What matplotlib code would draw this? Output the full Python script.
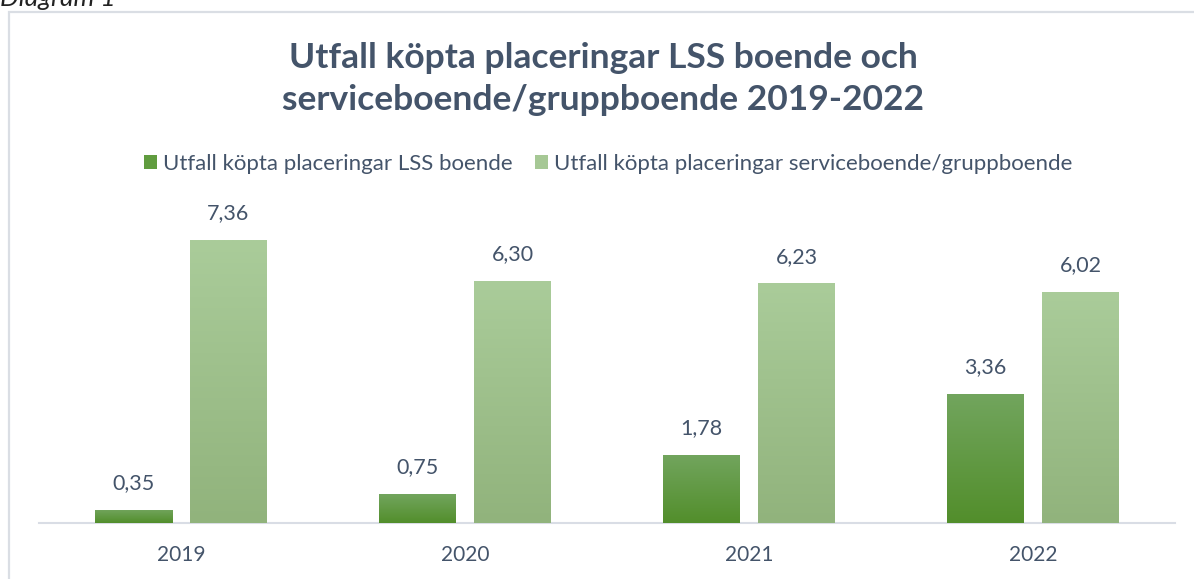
import matplotlib
matplotlib.use("Agg")
import matplotlib.pyplot as plt
import numpy as np
from matplotlib.patches import Rectangle
from matplotlib.colors import LinearSegmentedColormap

# ---- data ----
years = ["2019", "2020", "2021", "2022"]
lss_boende = [0.35, 0.75, 1.78, 3.36]
service_boende = [7.36, 6.30, 6.23, 6.02]
series_names = ["Utfall köpta placeringar LSS boende",
                "Utfall köpta placeringar serviceboende/gruppboende"]
title = "Utfall köpta placeringar LSS boende och\nserviceboende/gruppboende 2019-2022"

W, H = 1194, 579
plt.rcParams['font.family'] = ['Lato', 'DejaVu Sans']
txt_col = "#44546a"

fig = plt.figure(figsize=(W / 100, H / 100), dpi=100)
fig.patch.set_facecolor("white")

# outer frame
fig.patches.append(Rectangle((9 / W, -0.1), 1.2, 1 - 12 / H + 0.1, transform=fig.transFigure,
                             fill=False, edgecolor="#dadee4", linewidth=1.6))
fig.text(0 / W, 1 - 6 / H, "Diagram 1", fontsize=19, style="italic", color="#222222",
         ha="left", va="baseline")

left, right = 39 / W, 1175 / W
base_y = 523
ppu = 38.45
ymax = 8
top_y = base_y - ymax * ppu
ax = fig.add_axes([left, 1 - base_y / H, right - left, (base_y - top_y) / H])
ax.set_xlim(-0.5, len(years) - 0.5)
ax.set_ylim(0, ymax)
for s in ["top", "right", "left"]:
    ax.spines[s].set_visible(False)
ax.spines["bottom"].set_color("#d9dde5")
ax.spines["bottom"].set_linewidth(1.5)
ax.set_yticks([])
x = np.arange(len(years))
ax.set_xticks(x)
ax.set_xticklabels(years, fontsize=15, color=txt_col)
ax.tick_params(axis="x", length=0, pad=16)

bw = 77 / 284
off = (77 + 18) / 2 / 284
dark_cols = ("#72a55e", "#528e2b")
light_cols = ("#aacc9a", "#91b37c")
b1 = ax.bar(x - off, lss_boende, bw, color="#609c3f", zorder=2, label=series_names[0])
b2 = ax.bar(x + off, service_boende, bw, color="#a6c895", zorder=2, label=series_names[1])

for bars, cols in ((b1, dark_cols), (b2, light_cols)):
    cmap = LinearSegmentedColormap.from_list("g", [cols[1], cols[0]])
    grad = np.linspace(0, 1, 256).reshape(-1, 1)
    for r in bars:
        x0, y0, w, h = r.get_x(), r.get_y(), r.get_width(), r.get_height()
        im = ax.imshow(grad, cmap=cmap, aspect="auto", origin="lower",
                       extent=(x0, x0 + w, y0, y0 + h), zorder=3)
        im.set_clip_path(r)
ax.set_xlim(-0.5, len(years) - 0.5)
ax.set_ylim(0, ymax)

for bars, vals in ((b1, lss_boende), (b2, service_boende)):
    for r, v in zip(bars, vals):
        ax.annotate(f"{v:.2f}".replace(".", ","), (r.get_x() + r.get_width() / 2, v),
                    xytext=(0, 12), textcoords="offset points", ha="center", va="bottom",
                    fontsize=15.5, color=txt_col)

fig.text(603 / W, 1 - 79 / H, title, ha="center", va="center",
         fontsize=25.5, fontweight="bold", color=txt_col, linespacing=1.38)

leg = fig.legend(handles=[b1, b2], loc="center", bbox_to_anchor=(608 / W, 1 - 164 / H),
                 ncol=2, frameon=False, fontsize=16, handlelength=0.6, handleheight=0.6,
                 handletextpad=0.25, columnspacing=1.0, labelcolor=txt_col)

fig.savefig("out.png", dpi=100, facecolor="white")
